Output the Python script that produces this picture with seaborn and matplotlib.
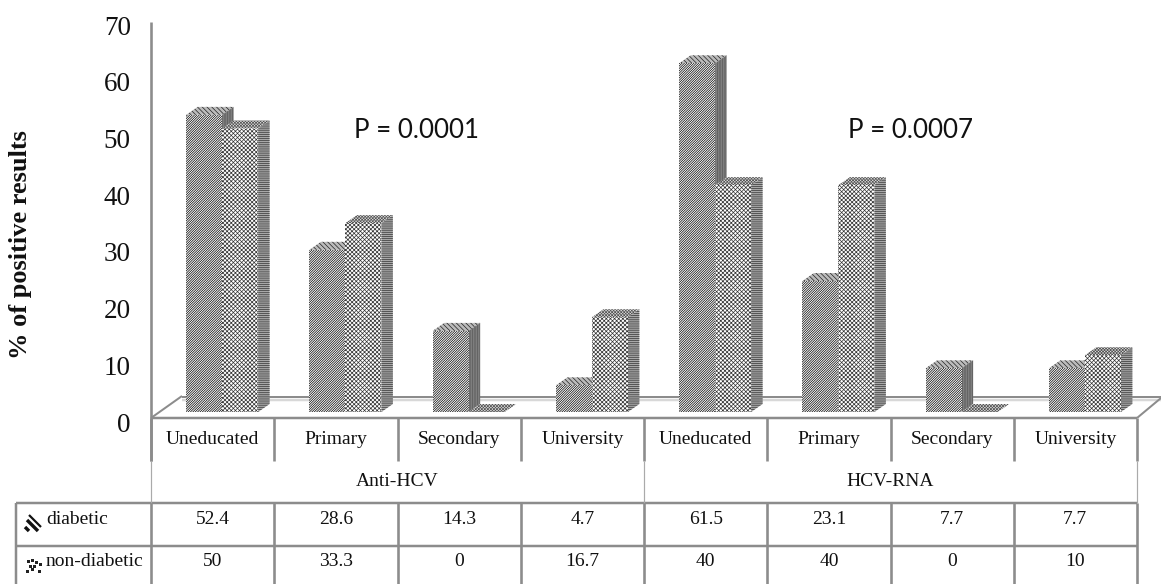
import matplotlib
matplotlib.use("Agg")
import matplotlib.pyplot as plt
import seaborn as sns
import pandas as pd
from matplotlib.patches import Polygon, Rectangle
from matplotlib.lines import Line2D
from matplotlib.transforms import ScaledTranslation

groups = ["Anti-HCV", "HCV-RNA"]
levels = ["Uneducated", "Primary", "Secondary", "University"]
series = ["diabetic", "non-diabetic"]
diabetic = [52.4, 28.6, 14.3, 4.7, 61.5, 23.1, 7.7, 7.7]
non_diabetic = [50, 33.3, 0, 16.7, 40, 40, 0, 10]
diabetic_text = ["52.4", "28.6", "14.3", "4.7", "61.5", "23.1", "7.7", "7.7"]
non_diabetic_text = ["50", "33.3", "0", "16.7", "40", "40", "0", "10"]
y_ticks = [0, 10, 20, 30, 40, 50, 60, 70]
y_label = "% of positive results"
p_values = ["P = 0.0001", "P = 0.0007"]

W, H = 1161, 584
GRID = "#8c8c8c"
SERIF = "Liberation Serif"
sns.set_theme(style="white", rc={"font.family": SERIF})
plt.rcParams["hatch.linewidth"] = 0.5

fig = plt.figure(figsize=(W / 100, H / 100), dpi=100, facecolor="white")

# pixel-coordinate overlay for the data table and the floor
px = fig.add_axes([0, 0, 1, 1], zorder=1)
px.set_xlim(0, W)
px.set_ylim(H, 0)
px.axis("off")

# chart axes: category slots 123.25 px wide, value 0 at y=412, 5.67 px per unit
left, right, y0, ppu = 151, 1137, 412, 5.67
slot = (right - left) / 8
top_val = 70
ax = fig.add_axes([left / W, (H - y0) / H, (right - left) / W, top_val * ppu / H], zorder=2)
ax.patch.set_alpha(0)

labels = [f"{g} {l}" for g in groups for l in levels]
df = pd.DataFrame({
    "cat": labels * 2,
    "series": [series[0]] * 8 + [series[1]] * 8,
    "value": diabetic + non_diabetic,
})
sns.barplot(data=df, x="cat", y="value", hue="series", order=labels, hue_order=series,
            width=72 / slot, gap=0, dodge=True, ax=ax, legend=False,
            palette=["white", "white"], saturation=1, linewidth=0)
shift = 9.5 / slot
ax.set_xlim(-0.5 - shift, 7.5 - shift)
ax.set_ylim(0, top_val)

dx = 11.5 / slot
dy = 8 / ppu
styles = {
    0: dict(front=("#000000", "/" * 14), top=("#222222", "\\" * 7), top_face="#bbbbbb",
            side=("#555555", "|" * 10), side_face="#888888"),
    1: dict(front=("#333333", "x" * 8), top=("#555555", "x" * 11), top_face="#dddddd",
            side=("#333333", "-" * 8), side_face="#a8a8a8"),
}
bars = [b for b in ax.patches if isinstance(b, Rectangle)]
bars = sorted(bars, key=lambda b: b.get_x())
for i, b in enumerate(bars):
    s = 0 if i % 2 == 0 else 1
    z = 3 + i
    st = styles[s]
    x0, w, h = b.get_x(), b.get_width(), b.get_height()
    b.set_facecolor("white")
    b.set_edgecolor(st["front"][0])
    b.set_hatch(st["front"][1])
    b.set_linewidth(0)
    b.set_zorder(z + 0.2)
    ax.add_patch(Polygon([(x0, h), (x0 + w, h), (x0 + w + dx, h + dy), (x0 + dx, h + dy)],
                         facecolor=st["top_face"], edgecolor=st["top"][0], hatch=st["top"][1],
                         linewidth=0, zorder=z, clip_on=False))
    ax.add_patch(Polygon([(x0 + w, 0), (x0 + w + dx, dy), (x0 + w + dx, h + dy), (x0 + w, h)],
                         facecolor=st["side_face"], edgecolor=st["side"][0], hatch=st["side"][1],
                         linewidth=0, zorder=z + 0.1, clip_on=False))

ax.set_xlabel("")
ax.set_ylabel("")
ax.set_xticks([])
ax.set_yticks(y_ticks)
ax.tick_params(axis="y", length=0, pad=14.5, labelsize=19.5, labelcolor="#111111")
off = ScaledTranslation(0, -10 / 100, fig.dpi_scale_trans)
for t in ax.get_yticklabels():
    t.set_transform(t.get_transform() + off)
    t.set_fontfamily(SERIF)
for sp in ax.spines.values():
    sp.set_visible(False)

def seg(xs, ys, lw=2.0, c=GRID, **kw):
    px.add_line(Line2D(xs, ys, color=c, lw=lw * 0.72, solid_capstyle="butt", **kw))

# wall and floor
seg([151, 151], [22, 461], lw=2.6)
seg([151, 182], [418, 396], lw=2.0)
seg([182, 1161], [400, 400], lw=2.5, c="#d8d8d8")
seg([182, 1161], [397, 397], lw=2.0)
seg([151, 1137], [418, 418], lw=2.5)
seg([1137, 1161], [418, 398], lw=2.0)
# table
seg([16, 1137], [503, 503], lw=2.5)
seg([16, 1137], [546, 546], lw=2.5)
seg([16, 16], [503, 584], lw=2.5)
for i in range(9):
    x = left + slot * i
    if i in (0, 4, 8):
        seg([x, x], [418, 461], lw=2.6)
        seg([x, x], [461, 503], lw=1.2, c="#aaaaaa")
    else:
        seg([x, x], [418, 461], lw=2.6)
    seg([x, x], [503, 584], lw=2.6)

FS = 14
INK = "#111111"
for i, lab in enumerate(levels * 2):
    px.text(left + slot * (i + 0.5), 440, lab, ha="center", va="center", family=SERIF, fontsize=FS, color=INK)
for j, g in enumerate(groups):
    px.text(left + slot * (2 + 4 * j), 481, g, ha="center", va="center", family=SERIF, fontsize=FS, color=INK)
for i in range(8):
    c = left + slot * (i + 0.5)
    px.text(c, 519, diabetic_text[i], ha="center", va="center", family=SERIF, fontsize=FS, color=INK)
    px.text(c, 562, non_diabetic_text[i], ha="center", va="center", family=SERIF, fontsize=FS, color=INK)
px.text(46, 519, series[0], ha="left", va="center", family=SERIF, fontsize=FS, color=INK)
px.text(46, 562, series[1], ha="left", va="center", family=SERIF, fontsize=FS, color=INK)

# legend keys
for a, b_, lw in [((29, 515), (41, 527), 2.2), ((27, 520), (38, 531), 3.4), ((25, 527), (29, 531), 3.4)]:
    seg([a[0], b_[0]], [a[1], b_[1]], lw=lw, c="#111111")
for kx, ky in [(27, 560), (31, 559), (35, 561), (39, 563), (29, 565), (33, 565), (26, 570), (38, 570), (31, 568)]:
    px.add_patch(Rectangle((kx, ky), 2.6, 2.6, facecolor="#222222", linewidth=0))

px.text(21, 245, y_label, rotation=90, ha="center", va="center", family=SERIF,
        fontsize=19, fontweight="bold", color=INK)
px.text(416, 130, p_values[0], ha="center", va="center", family="Lato", fontsize=18.6, color=INK, zorder=30)
px.text(911, 130, p_values[1], ha="center", va="center", family="Lato", fontsize=18.6, color=INK, zorder=30)

fig.savefig("out.png", dpi=100)
